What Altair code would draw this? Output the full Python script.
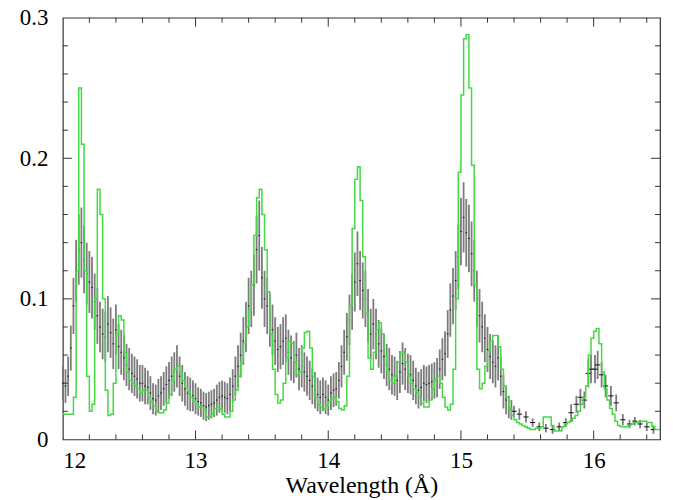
import altair as alt
import pandas as pd

# ---------------- data ----------------
# model (green histogram): bin left edges start at 12.00, bin width 0.02 A
model_start = 12.00
model_step = 0.02
model_flux = [
    0.018, 0.018, 0.018, 0.018, 0.030, 0.120, 0.250, 0.210, 0.120, 0.045,
    0.020, 0.025, 0.100, 0.178, 0.160, 0.100, 0.035, 0.017, 0.018, 0.040,
    0.075, 0.088, 0.085, 0.062, 0.048, 0.042, 0.040, 0.038, 0.036, 0.033,
    0.035, 0.035, 0.030, 0.027, 0.024, 0.020, 0.019, 0.019, 0.021, 0.026,
    0.032, 0.042, 0.050, 0.052, 0.048, 0.042, 0.037, 0.034, 0.030, 0.027,
    0.025, 0.023, 0.023, 0.021, 0.016, 0.016, 0.018, 0.022, 0.023, 0.022,
    0.018, 0.016, 0.016, 0.020, 0.028, 0.035, 0.045, 0.055, 0.068, 0.080,
    0.092, 0.110, 0.145, 0.172, 0.178, 0.160, 0.135, 0.105, 0.075, 0.050,
    0.032, 0.026, 0.028, 0.040, 0.058, 0.070, 0.068, 0.055, 0.046, 0.048,
    0.065, 0.076, 0.077, 0.065, 0.045, 0.030, 0.025, 0.023, 0.022, 0.024,
    0.027, 0.029, 0.030, 0.027, 0.022, 0.021, 0.024, 0.045, 0.095, 0.150,
    0.185, 0.194, 0.170, 0.130, 0.090, 0.058, 0.050, 0.062, 0.078, 0.083,
    0.075, 0.060, 0.048, 0.042, 0.040, 0.045, 0.055, 0.061, 0.062, 0.055,
    0.045, 0.040, 0.036, 0.033, 0.030, 0.026, 0.023, 0.023, 0.028, 0.036,
    0.043, 0.045, 0.040, 0.030, 0.023, 0.021, 0.025, 0.050, 0.100, 0.190,
    0.245, 0.285, 0.288, 0.250, 0.195, 0.110, 0.050, 0.036, 0.040, 0.052,
    0.063, 0.070, 0.074, 0.074, 0.066, 0.050, 0.038, 0.030, 0.022, 0.017,
    0.014, 0.012, 0.011, 0.010, 0.009, 0.008, 0.007, 0.007, 0.008, 0.008,
    0.009, 0.016, 0.016, 0.016, 0.010, 0.006, 0.006, 0.006, 0.009, 0.011,
    0.012, 0.013, 0.015, 0.017, 0.020, 0.025, 0.030, 0.038, 0.060, 0.072,
    0.077, 0.079, 0.068, 0.048, 0.036, 0.028, 0.022, 0.018, 0.013, 0.010,
    0.009, 0.009, 0.009, 0.010, 0.011, 0.012, 0.012, 0.013, 0.013, 0.013,
    0.012, 0.012, 0.009, 0.007, 0.007,
]

# observed spectrum, densely binned part (0.02 A spacing from 12.00)
dense_start = 12.00
dense_step = 0.02
dense_flux = [
    0.040, 0.038, 0.045, 0.065, 0.095, 0.120, 0.135, 0.140, 0.128, 0.118,
    0.112, 0.108, 0.098, 0.088, 0.080, 0.075, 0.073, 0.082, 0.076, 0.068,
    0.078, 0.066, 0.062, 0.058, 0.053, 0.050, 0.047, 0.045, 0.043, 0.040,
    0.040, 0.038, 0.037, 0.033, 0.029, 0.028, 0.031, 0.033, 0.036, 0.039,
    0.042, 0.045, 0.048, 0.052, 0.045, 0.040, 0.036, 0.033, 0.032, 0.031,
    0.029, 0.027, 0.026, 0.024, 0.023, 0.024, 0.025, 0.026, 0.028, 0.030,
    0.031, 0.030, 0.029, 0.032, 0.038, 0.045, 0.052, 0.060, 0.070, 0.080,
    0.095, 0.100, 0.110, 0.135, 0.145, 0.115, 0.100, 0.095, 0.085, 0.078,
    0.070, 0.064, 0.066, 0.070, 0.072, 0.062, 0.058, 0.055, 0.060, 0.050,
    0.052, 0.048, 0.045, 0.042, 0.038, 0.035, 0.032, 0.030, 0.032, 0.030,
    0.028, 0.033, 0.035, 0.036, 0.042, 0.052, 0.062, 0.073, 0.085, 0.098,
    0.112, 0.125, 0.113, 0.106, 0.100, 0.088, 0.075, 0.082, 0.075, 0.068,
    0.063, 0.059, 0.053, 0.050, 0.046, 0.045, 0.042, 0.048, 0.054, 0.050,
    0.047, 0.046, 0.042, 0.038, 0.035, 0.037, 0.040, 0.039, 0.040, 0.041,
    0.042, 0.044, 0.050, 0.057, 0.061, 0.075, 0.092, 0.102, 0.113, 0.130,
    0.148, 0.158, 0.147, 0.143, 0.132, 0.120, 0.100, 0.088, 0.080, 0.072,
    0.064, 0.059, 0.055, 0.052, 0.058, 0.045, 0.034, 0.028, 0.023, 0.021,
]
dense_err = [
    0.012, 0.012, 0.014, 0.016, 0.020, 0.022, 0.025, 0.025, 0.024, 0.022,
    0.022, 0.022, 0.020, 0.020, 0.018, 0.018, 0.018, 0.020, 0.018, 0.018,
    0.018, 0.016, 0.016, 0.016, 0.015, 0.015, 0.014, 0.014, 0.014, 0.013,
    0.013, 0.013, 0.012, 0.012, 0.011, 0.011, 0.012, 0.012, 0.012, 0.013,
    0.013, 0.014, 0.014, 0.015, 0.014, 0.013, 0.012, 0.012, 0.012, 0.011,
    0.011, 0.010, 0.010, 0.010, 0.010, 0.010, 0.010, 0.010, 0.011, 0.011,
    0.011, 0.011, 0.011, 0.012, 0.012, 0.014, 0.015, 0.016, 0.017, 0.018,
    0.020, 0.020, 0.022, 0.024, 0.025, 0.022, 0.020, 0.020, 0.019, 0.018,
    0.017, 0.016, 0.016, 0.017, 0.017, 0.016, 0.016, 0.015, 0.016, 0.015,
    0.015, 0.014, 0.014, 0.014, 0.013, 0.013, 0.012, 0.012, 0.012, 0.012,
    0.011, 0.012, 0.012, 0.012, 0.013, 0.015, 0.016, 0.017, 0.018, 0.020,
    0.021, 0.023, 0.021, 0.020, 0.020, 0.019, 0.018, 0.018, 0.018, 0.017,
    0.016, 0.016, 0.015, 0.015, 0.014, 0.014, 0.014, 0.015, 0.015, 0.015,
    0.014, 0.014, 0.014, 0.013, 0.013, 0.013, 0.013, 0.013, 0.013, 0.013,
    0.013, 0.014, 0.014, 0.015, 0.016, 0.017, 0.019, 0.020, 0.021, 0.023,
    0.024, 0.025, 0.024, 0.024, 0.023, 0.022, 0.020, 0.019, 0.018, 0.017,
    0.016, 0.016, 0.015, 0.015, 0.016, 0.014, 0.012, 0.010, 0.008, 0.007,
]

# observed spectrum, wider bins at long wavelength
sparse_wl = [15.40, 15.44, 15.49, 15.54, 15.59, 15.64, 15.69, 15.74, 15.79,
             15.83, 15.87, 15.90, 15.93, 15.96, 15.98, 16.01, 16.03, 16.06,
             16.09, 16.13, 16.17, 16.22, 16.27, 16.31, 16.35, 16.40, 16.45]
sparse_flux = [0.020, 0.018, 0.016, 0.012, 0.009, 0.008, 0.007, 0.009, 0.012,
               0.019, 0.025, 0.030, 0.028, 0.047, 0.050, 0.050, 0.053, 0.046,
               0.038, 0.031, 0.026, 0.014, 0.011, 0.013, 0.011, 0.009, 0.007]
sparse_err = [0.004, 0.004, 0.004, 0.003, 0.003, 0.003, 0.003, 0.003, 0.003,
              0.006, 0.006, 0.006, 0.006, 0.010, 0.010, 0.010, 0.010, 0.009,
              0.008, 0.007, 0.006, 0.004, 0.003, 0.003, 0.003, 0.003, 0.003]
dense_halfwidth = 0.006
sparse_halfwidth = 0.02

x_major = [12, 13, 14, 15, 16]
x_minor = [round(12 + 0.2 * i, 2) for i in range(23) if i % 5 != 0]
y_labels = [0, 0.1, 0.2, 0.3]
y_major = [0.1, 0.2]
y_minor = [round(0.02 * i, 2) for i in range(1, 15) if i % 5 != 0]

# ---------------- tables ----------------
model_wl = [round(model_start + model_step * i, 3) for i in range(len(model_flux))]
model_df = pd.DataFrame({"wl": model_wl + [16.5], "flux": model_flux + [model_flux[-1]]})

rows = []
for i, (f, e) in enumerate(zip(dense_flux, dense_err)):
    w = round(dense_start + dense_step * i, 3)
    rows.append({"wl": w, "flux": f, "lo": f - e, "hi": f + e,
                 "wl1": w - dense_halfwidth, "wl2": w + dense_halfwidth})
for w, f, e in zip(sparse_wl, sparse_flux, sparse_err):
    rows.append({"wl": w, "flux": f, "lo": f - e, "hi": f + e,
                 "wl1": w - sparse_halfwidth, "wl2": w + sparse_halfwidth})
obs_df = pd.DataFrame(rows)

W, H = 599, 423
FONT = "Times New Roman, Liberation Serif, serif"
xscale = alt.Scale(domain=[12, 16.5], nice=False, zero=False)
yscale = alt.Scale(domain=[0, 0.3], nice=False, zero=True)

xaxis = alt.Axis(values=x_major, ticks=False, domain=False, grid=False,
                 labelFont=FONT, labelFontSize=23, labelColor="black",
                 labelPadding=10, title="Wavelength (Å)", titleFont=FONT,
                 titleFontSize=24, titleFontWeight="normal", titleColor="black",
                 titlePadding=1, format="d")
yaxis = alt.Axis(values=y_labels, ticks=False, domain=False, grid=False,
                 labelFont=FONT, labelFontSize=23, labelColor="black",
                 labelPadding=15, title=None, format=".1~f")

def X(field):
    return alt.X(field, scale=xscale, axis=xaxis)

def Y(field):
    return alt.Y(field, scale=yscale, axis=yaxis)

errbars = alt.Chart(obs_df).mark_rule(color="#7c7c7c", strokeWidth=1.8).encode(
    x=X("wl:Q"), y=Y("lo:Q"), y2="hi:Q",
)
centers = alt.Chart(obs_df).mark_rule(color="#111111", strokeWidth=1).encode(
    x=X("wl1:Q"), x2="wl2:Q", y=Y("flux:Q"),
)
model = alt.Chart(model_df).mark_line(color="#45d845", strokeWidth=1.5,
                                      interpolate="step-after").encode(
    x=X("wl:Q"), y=Y("flux:Q"),
)

TICK = "#333333"
def xticks(vals, L):
    d = pd.DataFrame({"wl": vals})
    bot = alt.Chart(d).mark_rule(color=TICK, strokeWidth=1).encode(
        x=X("wl:Q"), y=alt.value(H), y2=alt.value(H - L))
    top = alt.Chart(d).mark_rule(color=TICK, strokeWidth=1).encode(
        x=X("wl:Q"), y=alt.value(0), y2=alt.value(L))
    return [bot, top]

def yticks(vals, L):
    d = pd.DataFrame({"flux": vals})
    left = alt.Chart(d).mark_rule(color=TICK, strokeWidth=1).encode(
        y=Y("flux:Q"), x=alt.value(0), x2=alt.value(L))
    right = alt.Chart(d).mark_rule(color=TICK, strokeWidth=1).encode(
        y=Y("flux:Q"), x=alt.value(W), x2=alt.value(W - L))
    return [left, right]

layers = [errbars, centers, model]
layers += xticks(x_major[1:], 9) + xticks(x_minor, 5)
layers += yticks(y_major, 9) + yticks(y_minor, 5)

chart = alt.layer(*layers).properties(
    width=W, height=H,
    padding={"left": 55, "top": 9, "right": 5, "bottom": 60},
    autosize=alt.AutoSizeParams(type="none"),
    background="white",
).configure_view(stroke="#333333", strokeWidth=1.2)

chart.save("out.html", embed_options={"renderer": "svg", "actions": False})
